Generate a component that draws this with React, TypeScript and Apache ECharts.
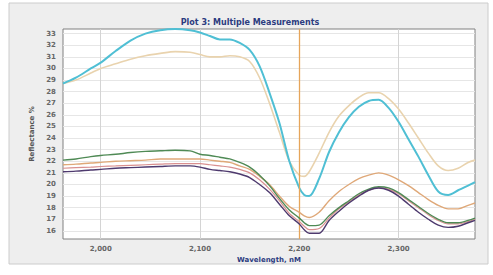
import React, { useEffect, useRef } from "react";
import * as echarts from "echarts";

const wavelengths = [1962, 1975, 1990, 2000, 2015, 2030, 2045, 2060, 2075, 2090, 2100, 2110, 2120, 2130, 2140, 2150, 2160, 2170, 2180, 2190, 2200, 2205, 2210, 2220, 2230, 2240, 2250, 2260, 2270, 2280, 2290, 2300, 2310, 2320, 2330, 2340, 2350, 2360, 2370, 2377];

const cyanValues = [28.7, 29.2, 30.0, 30.5, 31.5, 32.4, 33.0, 33.3, 33.4, 33.3, 33.1, 32.8, 32.5, 32.5, 32.2, 31.6, 30.2, 27.9, 25.3, 22.0, 19.7, 19.1, 19.0, 20.5, 22.8, 24.5, 25.8, 26.7, 27.2, 27.3, 26.6, 25.4, 23.9, 22.4, 20.8, 19.4, 19.1, 19.5, 19.9, 20.2];
const tanValues = [28.7, 29.0, 29.6, 30.0, 30.4, 30.8, 31.1, 31.3, 31.45, 31.4, 31.2, 31.0, 31.0, 31.1, 31.0, 30.6, 29.2, 27.0, 24.5, 22.0, 20.8, 20.7, 21.1, 22.7, 24.5, 25.9, 26.8, 27.5, 27.9, 27.9, 27.4, 26.5, 25.3, 24.0, 22.7, 21.6, 21.2, 21.4, 21.9, 22.1];
const greenValues = [22.1, 22.2, 22.4, 22.5, 22.6, 22.75, 22.85, 22.9, 22.95, 22.9, 22.6, 22.5, 22.35, 22.2, 21.9, 21.5, 20.8, 19.9, 18.8, 17.8, 17.1, 16.7, 16.45, 16.5, 17.3, 18.0, 18.6, 19.2, 19.6, 19.8, 19.7, 19.3, 18.7, 18.1, 17.5, 17.0, 16.7, 16.7, 16.9, 17.1];
const orangeValues = [21.7, 21.75, 21.85, 21.9, 22.0, 22.05, 22.1, 22.2, 22.2, 22.2, 22.2, 22.1, 22.0, 21.9, 21.6, 21.3, 20.7, 20.0, 19.0, 18.1, 17.6, 17.3, 17.15, 17.6, 18.6, 19.4, 20.0, 20.5, 20.8, 21.0, 20.8, 20.4, 19.9, 19.3, 18.7, 18.2, 17.9, 17.9, 18.2, 18.4];
const redValues = [21.4, 21.45, 21.5, 21.55, 21.6, 21.65, 21.7, 21.75, 21.8, 21.8, 21.8, 21.7, 21.6, 21.5, 21.3, 21.0, 20.4, 19.6, 18.6, 17.5, 16.8, 16.4, 16.1, 16.2, 17.1, 17.9, 18.5, 19.1, 19.5, 19.7, 19.6, 19.2, 18.6, 18.0, 17.4, 16.9, 16.6, 16.6, 16.8, 17.0];
const purpleValues = [21.1, 21.15, 21.25, 21.3, 21.4, 21.45, 21.5, 21.55, 21.6, 21.6, 21.5, 21.3, 21.2, 21.1, 20.9, 20.6, 20.0, 19.3, 18.3, 17.3, 16.6, 16.1, 15.8, 15.8, 16.9, 17.7, 18.4, 19.0, 19.5, 19.7, 19.5, 19.0, 18.3, 17.6, 17.0, 16.5, 16.3, 16.4, 16.7, 16.9];

const yTicks = [16, 17, 18, 19, 20, 21, 22, 23, 24, 25, 26, 27, 28, 29, 30, 31, 32, 33];
const xTicks = [2000, 2100, 2200, 2300];
const markerWavelength = 2200;

const seriesDefs = [
  { name: "Measurement 1", values: tanValues, color: "#e9d3ae", width: 1.6 },
  { name: "Measurement 2", values: cyanValues, color: "#4fbfd4", width: 2 },
  { name: "Measurement 3", values: orangeValues, color: "#dfa878", width: 1.4 },
  { name: "Measurement 4", values: redValues, color: "#d99090", width: 1.2 },
  { name: "Measurement 5", values: greenValues, color: "#4f8a55", width: 1.4 },
  { name: "Measurement 6", values: purpleValues, color: "#4e3a6e", width: 1.4 },
];

export default function App() {
  const ref = useRef<HTMLDivElement>(null);
  useEffect(() => {
    if (!ref.current) return;
    const chart = echarts.init(ref.current, null, { renderer: "svg" });
    const series: any[] = seriesDefs.map((s, i) => ({
      type: "line",
      name: s.name,
      data: wavelengths.map((w, j) => [w, s.values[j]]),
      showSymbol: false,
      smooth: 0.3,
      lineStyle: { color: s.color, width: s.width },
      itemStyle: { color: s.color },
      z: 3 + i,
      markLine:
        i === 0
          ? {
              silent: true,
              symbol: "none",
              label: { show: false },
              lineStyle: { color: "#e6a55a", width: 1.3, type: "solid" },
              data: [{ xAxis: markerWavelength }],
            }
          : undefined,
    }));
    chart.setOption({
      animation: false,
      backgroundColor: "#ffffff",
      title: {
        text: "Plot 3: Multiple Measurements",
        left: 245,
        top: 13,
        textAlign: "center",
        textStyle: { fontFamily: "DejaVu Sans", fontSize: 8, fontWeight: "bold", color: "#2c3c80" },
      },
      graphic: [
        {
          type: "rect",
          z: -10,
          silent: true,
          shape: { x: 9, y: 3, width: 479, height: 261 },
          style: { fill: "#eeeeee", stroke: "#cccccc", lineWidth: 1 },
        },
      ],
      grid: {
        left: 63,
        top: 29,
        right: 18,
        bottom: 36,
        show: true,
        backgroundColor: "#ffffff",
        borderColor: "#808080",
        borderWidth: 1,
      },
      xAxis: {
        type: "value",
        min: 1962,
        max: 2377,
        name: "Wavelength, nM",
        nameLocation: "middle",
        nameGap: 15,
        nameTextStyle: { fontFamily: "DejaVu Sans", fontSize: 7, fontWeight: "bold", color: "#2c3c80" },
        axisLine: { show: false },
        axisTick: { show: false, customValues: xTicks },
        axisLabel: {
          customValues: xTicks,
          fontFamily: "DejaVu Sans",
          fontSize: 7,
          fontWeight: "bold",
          color: "#666666",
          margin: 6,
          formatter: (v: number) => v.toLocaleString("en-US"),
        },
        splitLine: { show: true, lineStyle: { color: "#d4d4d4", width: 1 } },
      },
      yAxis: {
        type: "value",
        min: 15.3,
        max: 33.4,
        name: "Reflectance %",
        nameLocation: "middle",
        nameGap: 26,
        nameRotate: 90,
        nameTextStyle: { fontFamily: "DejaVu Sans", fontSize: 7, fontWeight: "bold", color: "#555555" },
        axisLine: { show: false },
        axisTick: { show: false, customValues: yTicks },
        axisLabel: {
          customValues: yTicks,
          fontFamily: "DejaVu Sans",
          fontSize: 7,
          fontWeight: "bold",
          color: "#666666",
          margin: 7,
        },
        splitLine: { show: true, lineStyle: { color: "#e6e6e6", width: 1 } },
      },
      series,
    });
    return () => chart.dispose();
  }, []);
  return <div ref={ref} style={{ width: 493, height: 275, position: "absolute", left: 0, top: 0 }} />;
}
